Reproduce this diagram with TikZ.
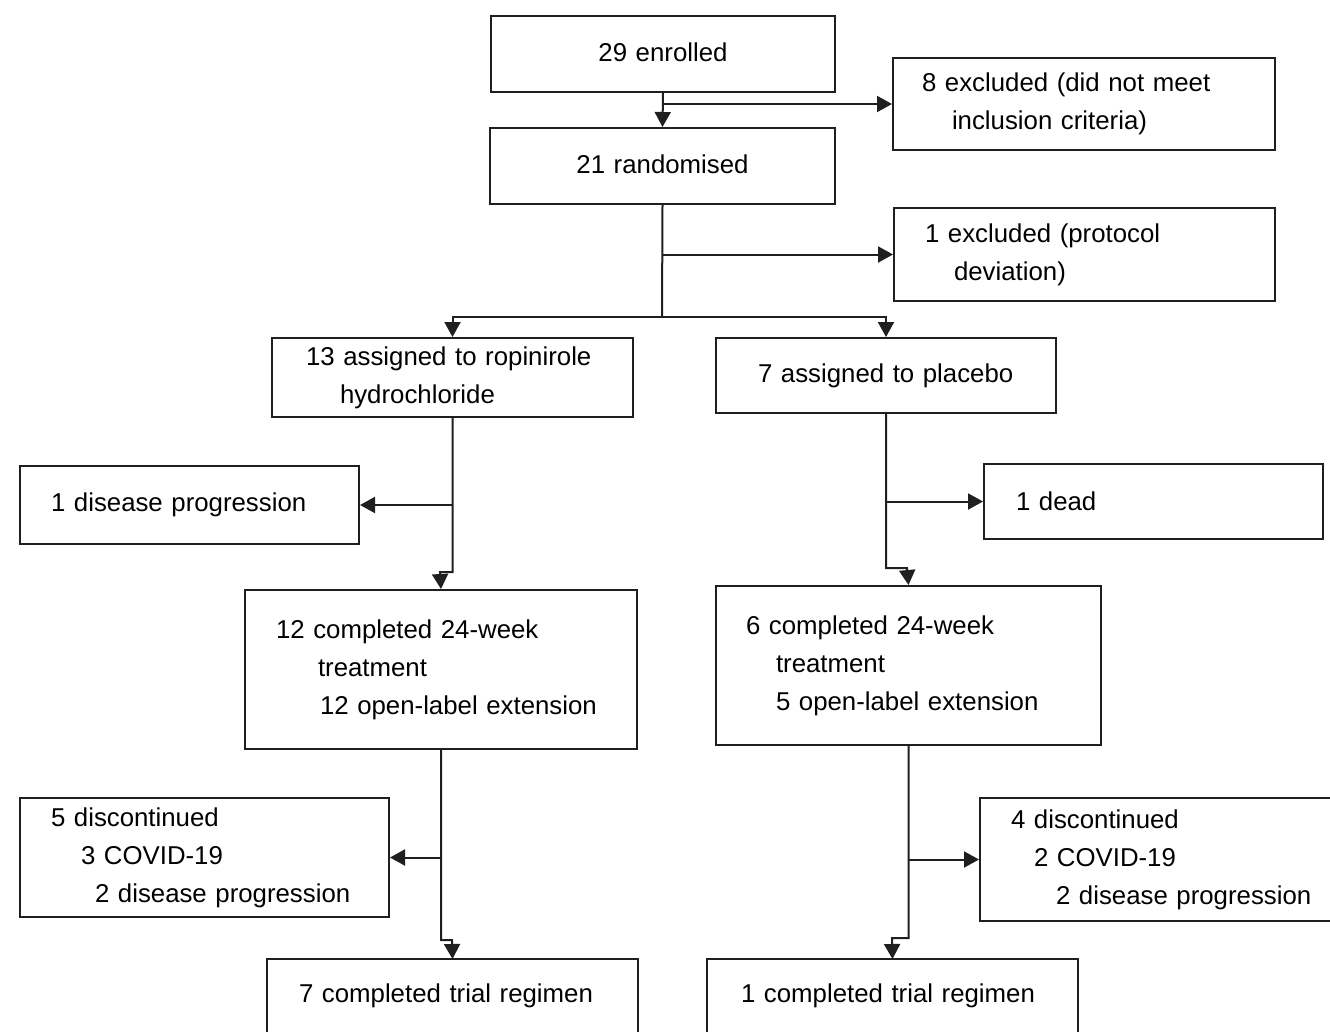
\documentclass[tikz,border=0pt]{standalone}
\usepackage{fontspec}
\setmainfont{Liberation Sans}
\usetikzlibrary{arrows.meta}
\begin{document}
\begin{tikzpicture}[x=1pt,y=-1pt,
  font=\fontsize{25.8}{38}\selectfont,
  line width=2pt, draw=black!88,
  box/.style={draw, anchor=north west, align=left, inner ysep=0pt, inner xsep=0pt},
  cbox/.style={draw, anchor=north west, align=center, inner ysep=0pt, inner xsep=0pt},
  obox/.style={anchor=north west, align=left, inner ysep=0pt, inner xsep=0pt},
  arr/.style={-{Triangle[length=15pt,width=16pt]}}]
\useasboundingbox (0,0) rectangle (1330,1031);
% boxes
\node[cbox, text width=344pt, minimum height=76pt] (enr) at (490,15) {\raisebox{4pt}{29 enrolled}};
\node[cbox, text width=345pt, minimum height=76pt] (rand) at (489,127) {\raisebox{3pt}{21 randomised}};
\node[box, text width=382pt, minimum height=92pt] (ex8) at (892,57)
  {\hspace*{29pt}8 excluded (did not meet\\\hspace*{59pt}inclusion criteria)};
\node[box, text width=381pt, minimum height=93pt] (ex1) at (893,207)
  {\hspace*{31pt}1 excluded (protocol\\\hspace*{60pt}deviation)};
\node[box, text width=361pt, minimum height=79pt] (rop) at (271,337)
  {\hspace*{34pt}13 assigned to ropinirole\\\hspace*{68pt}hydrochloride};
\node[box, text width=340pt, minimum height=75pt] (pla) at (715,337)
  {\hspace*{42pt}7 assigned to placebo};
\node[box, text width=339pt, minimum height=78pt] (dp) at (19,465)
  {\hspace*{31pt}1 disease progression};
\node[box, text width=339pt, minimum height=75pt] (dead) at (983,463)
  {\hspace*{32pt}1 dead};
\node[box, text width=392pt, minimum height=159pt] (cL) at (244,589)
  {\hspace*{31pt}12 completed 24-week\\\hspace*{73pt}treatment\\\hspace*{75pt}12 open-label extension};
\node[box, text width=385pt, minimum height=159pt] (cR) at (715,585)
  {\hspace*{30pt}6 completed 24-week\\\hspace*{60pt}treatment\\\hspace*{60pt}5 open-label extension};
\node[box, text width=369pt, minimum height=119pt] (dL) at (19,797)
  {\hspace*{31pt}5 discontinued\\\hspace*{61pt}3 COVID-19\\\hspace*{75pt}2 disease progression};
\node[box, text width=360pt, minimum height=123pt] (dR) at (979,797)
  {\hspace*{31pt}4 discontinued\\\hspace*{54pt}2 COVID-19\\\hspace*{76pt}2 disease progression};
\node[obox, text width=369pt, minimum height=72pt] (tL) at (267,959)
  {\hspace*{31pt}7 completed trial regimen};
\node[obox, text width=369pt, minimum height=72pt] (tR) at (707,959)
  {\hspace*{33pt}1 completed trial regimen};
\draw (tL.south west) -- (tL.north west) -- (tL.north east) -- (tL.south east);
\draw (tR.south west) -- (tR.north west) -- (tR.north east) -- (tR.south east);
% joints
\coordinate (split) at (662,317);
\coordinate (jL1) at (440,572);
\coordinate (jR1) at (907,568);
\coordinate (jL2) at (452,940);
\coordinate (jR2) at (892,938);
% connectors
\draw[arr] (enr.south) -- (rand.north);
\draw[arr] (enr.south |- ex8.west) -- (ex8.west);
\draw (rand.south) -- (split);
\draw[arr] (rand.south |- ex1.west) -- (ex1.west);
\draw[arr] (split) -| (rop.north);
\draw[arr] (split) -| (pla.north);
\draw[arr] (rop.south) -- (rop.south |- jL1) -- (jL1) -- (cL.north);
\draw[arr] (rop.south |- dp.east) -- (dp.east);
\draw[arr] (pla.south) -- (pla.south |- jR1) -- (jR1) -- (cR.north);
\draw[arr] (pla.south |- dead.west) -- (dead.west);
\draw[arr] (cL.south) -- (cL.south |- jL2) -- (jL2) -- (tL.north);
\draw[arr] (cL.south |- dL.east) -- (dL.east);
\draw[arr] (cR.south) -- (cR.south |- jR2) -- (jR2) -- (tR.north);
\draw[arr] (cR.south |- dR.west) -- (dR.west);
\end{tikzpicture}
\end{document}
